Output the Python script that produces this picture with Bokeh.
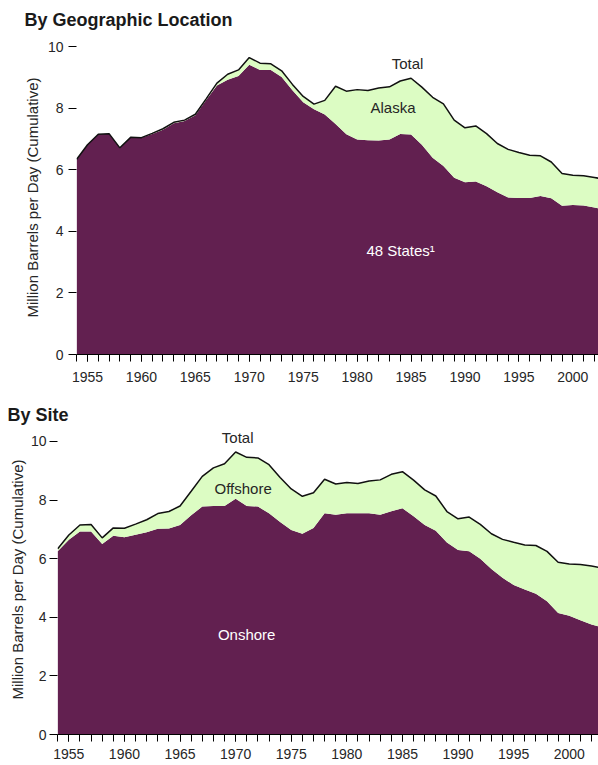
from bokeh.plotting import figure
from bokeh.models import ColumnDataSource, Label, Title, SingleIntervalTicker, FixedTicker, Range1d
from bokeh.embed import file_html
from bokeh.resources import INLINE

# ---- data (million barrels per day) ----
years = list(range(1954, 2004))
lower48 = [6.34, 6.81, 7.15, 7.17, 6.71, 7.05, 7.04, 7.16, 7.30, 7.51,
           7.58, 7.77, 8.26, 8.73, 8.92, 9.04, 9.41, 9.24, 9.24, 9.01,
           8.58, 8.19, 7.96, 7.79, 7.48, 7.15, 6.98, 6.96, 6.95, 6.98,
           7.16, 7.14, 6.81, 6.39, 6.12, 5.74, 5.59, 5.62, 5.46, 5.27,
           5.10, 5.08, 5.08, 5.15, 5.07, 4.83, 4.85, 4.84, 4.77, 4.71]
alaska = [0.00, 0.00, 0.00, 0.00, 0.00, 0.00, 0.00, 0.02, 0.03, 0.03,
          0.03, 0.03, 0.04, 0.08, 0.18, 0.20, 0.23, 0.22, 0.20, 0.20,
          0.19, 0.19, 0.17, 0.46, 1.23, 1.40, 1.62, 1.61, 1.70, 1.71,
          1.72, 1.83, 1.87, 1.96, 2.02, 1.87, 1.77, 1.80, 1.71, 1.58,
          1.56, 1.48, 1.39, 1.30, 1.18, 1.05, 0.97, 0.96, 0.98, 0.97]
onshore = [6.25, 6.65, 6.93, 6.93, 6.50, 6.78, 6.73, 6.82, 6.90, 7.02,
           7.03, 7.15, 7.48, 7.78, 7.80, 7.80, 8.05, 7.80, 7.78, 7.55,
           7.25, 6.98, 6.85, 7.05, 7.55, 7.50, 7.55, 7.55, 7.55, 7.50,
           7.62, 7.72, 7.45, 7.15, 6.95, 6.55, 6.30, 6.25, 6.00, 5.65,
           5.35, 5.10, 4.95, 4.80, 4.55, 4.15, 4.05, 3.90, 3.75, 3.65]
offshore = [0.09, 0.16, 0.22, 0.24, 0.21, 0.27, 0.31, 0.36, 0.43, 0.52,
            0.58, 0.65, 0.82, 1.03, 1.30, 1.44, 1.59, 1.66, 1.66, 1.66,
            1.52, 1.40, 1.28, 1.20, 1.16, 1.05, 1.05, 1.02, 1.10, 1.19,
            1.26, 1.25, 1.23, 1.20, 1.19, 1.06, 1.06, 1.17, 1.17, 1.20,
            1.31, 1.46, 1.52, 1.65, 1.70, 1.73, 1.77, 1.90, 2.00, 2.03]
y_ticks = [0, 2, 4, 6, 8, 10]

PURPLE = "#622050"
GREEN = "#dcfcc3"
FONT = "Liberation Sans"
TXT = "#262626"


def make_chart(bottom_vals, top_vals, width, height, x_end, y_end,
               border_left, border_top, border_bottom,
               ylab_standoff, ytick_standoff, xtick_standoff):
    stack_top = [a + b for a, b in zip(bottom_vals, top_vals)]
    src = ColumnDataSource(dict(x=years, low=bottom_vals, total=stack_top))
    p = figure(width=width, height=height, output_backend="svg",
               toolbar_location=None,
               x_range=Range1d(1953.98, x_end), y_range=Range1d(0, y_end),
               min_border_left=border_left, min_border_right=0,
               min_border_top=border_top, min_border_bottom=border_bottom)
    p.outline_line_color = None
    p.xgrid.visible = False
    p.ygrid.visible = False
    p.background_fill_color = "white"
    p.border_fill_color = "white"

    p.varea(x="x", y1=0, y2="low", source=src, fill_color=PURPLE)
    p.varea(x="x", y1="low", y2="total", source=src, fill_color=GREEN)
    p.line(x="x", y="total", source=src, line_color="#111111", line_width=1.5)

    xa = p.xaxis[0]
    xa.ticker = SingleIntervalTicker(interval=5, num_minor_ticks=5)
    xa.axis_line_color = "black"
    xa.major_tick_in = 0
    xa.major_tick_out = 7
    xa.minor_tick_in = 0
    xa.minor_tick_out = 7
    xa.major_tick_line_color = "black"
    xa.minor_tick_line_color = "black"
    xa.major_label_standoff = xtick_standoff
    xa.major_label_text_font = FONT
    xa.major_label_text_font_size = "14px"
    xa.major_label_text_color = TXT

    ya = p.yaxis[0]
    ya.ticker = FixedTicker(ticks=y_ticks)
    ya.axis_line_color = None
    ya.major_tick_in = 0
    ya.major_tick_out = 8
    ya.major_tick_line_color = "black"
    ya.minor_tick_line_color = None
    ya.major_label_standoff = ytick_standoff
    ya.major_label_text_font = FONT
    ya.major_label_text_font_size = "14px"
    ya.major_label_text_color = TXT
    ya.axis_label = "Million Barrels per Day (Cumulative)"
    ya.axis_label_text_font = FONT
    ya.axis_label_text_font_size = "15px"
    ya.axis_label_text_font_style = "normal"
    ya.axis_label_text_color = TXT
    ya.axis_label_standoff = ylab_standoff
    return p


def add_text(p, x, y, text, color=TXT):
    p.add_layout(Label(x=x, y=y, text=text, text_color=color,
                       text_font=FONT, text_font_size="15px",
                       text_align="center", text_baseline="middle"))


def add_title(p, text, offset, standoff, valign):
    p.add_layout(Title(text=text, align="left", offset=offset,
                       standoff=standoff, vertical_align=valign,
                       text_font=FONT, text_font_size="18px",
                       text_font_style="bold", text_color="#1a1a1a"), "above")


# ---- top chart: by geographic location ----
p1 = make_chart(lower48, alaska, 598, 390, 2002.38, 10.195,
                76, 40, 36, 4, 5, 10)
add_title(p1, "By Geographic Location", -52, 17, "top")
add_text(p1, 1984.68, 9.45, "Total")
add_text(p1, 1983.33, 8.02, "Alaska")
add_text(p1, 1984.03, 3.38, "48 States\u00b9", color="white")

# ---- bottom chart: by site ----
p2 = make_chart(onshore, offshore, 598, 375, 2002.63, 10.58,
                57, 34, 31, 2, 3, 7)
add_title(p2, "By Site", -50, 0, "bottom")
add_text(p2, 1970.18, 10.14, "Total")
add_text(p2, 1970.67, 8.40, "Offshore")
add_text(p2, 1970.99, 3.41, "Onshore", color="white")

open("out.html", "w").write(file_html([p1, p2], INLINE))
